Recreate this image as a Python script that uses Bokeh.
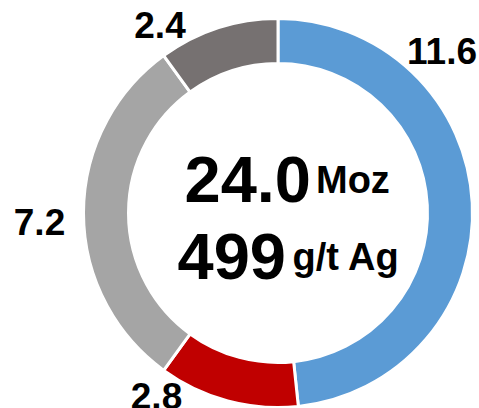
import math
from bokeh.plotting import figure
from bokeh.models import Range1d, ColumnDataSource
from bokeh.core.properties import value
from bokeh.embed import file_html
from bokeh.resources import INLINE

# ---- data ----
segments = ["Segment A", "Segment B", "Segment C", "Segment D"]
values = [11.6, 2.8, 7.2, 2.4]
value_labels = ["11.6", "2.8", "7.2", "2.4"]
total_label = "24.0"
total_unit = "Moz"
grade_label = "499"
grade_unit = "g/t Ag"

# ---- styles / layout ----
colors = ["#5B9BD5", "#C00000", "#A5A5A5", "#767171"]
W, H = 479, 408
FONT = value("Liberation Sans")

cx, cy_screen = 277.5, 212.5
r_out, r_in = 194.5, 149.5
# label anchors (screen coords: centre x, baseline y)
label_x = [441.5, 156, 39, 159.5]
label_base = [50, 395, 221.5, 24.5]
big_base = [179, 256]

p = figure(width=W, height=H, output_backend="svg", toolbar_location=None,
           x_range=Range1d(0, W), y_range=Range1d(0, H), min_border=0)
p.axis.visible = False
p.grid.visible = False
p.outline_line_color = None
p.background_fill_color = "white"
p.border_fill_color = "white"

total = sum(values)
starts, ends = [], []
acc = 0.0
for v in values:
    starts.append(math.pi / 2 - acc / total * 2 * math.pi)
    acc += v
    ends.append(math.pi / 2 - acc / total * 2 * math.pi)

src = ColumnDataSource(dict(start=starts, end=ends, color=colors,
                            x=[cx] * len(values), y=[H - cy_screen] * len(values)))
p.annular_wedge(x="x", y="y", inner_radius=r_in, outer_radius=r_out,
                start_angle="start", end_angle="end", direction="clock",
                fill_color="color", line_color="white", line_width=3, source=src)

lsrc = ColumnDataSource(dict(x=label_x, y=[H - b for b in label_base], t=value_labels))
p.text(x="x", y="y", text="t", source=lsrc, text_font=FONT, text_font_style="bold",
       text_font_size="37px", text_align="center", text_baseline="alphabetic",
       text_color="black")

# centre texts
p.text(x=[310.5], y=[H - big_base[0]], text=[total_label], text_font=FONT,
       text_font_style="bold", text_font_size="65px", text_align="right",
       text_baseline="alphabetic", text_color="black")
p.text(x=[315.5], y=[H - big_base[0]], text=[total_unit], text_font=FONT,
       text_font_style="bold", text_font_size="38px", text_align="left",
       text_baseline="alphabetic", text_color="black")
p.text(x=[285.5], y=[H - big_base[1]], text=[grade_label], text_font=FONT,
       text_font_style="bold", text_font_size="65px", text_align="right",
       text_baseline="alphabetic", text_color="black")
p.text(x=[292], y=[H - big_base[1]], text=[grade_unit], text_font=FONT,
       text_font_style="bold", text_font_size="38px", text_align="left",
       text_baseline="alphabetic", text_color="black")

open("out.html", "w").write(file_html(p, INLINE))
